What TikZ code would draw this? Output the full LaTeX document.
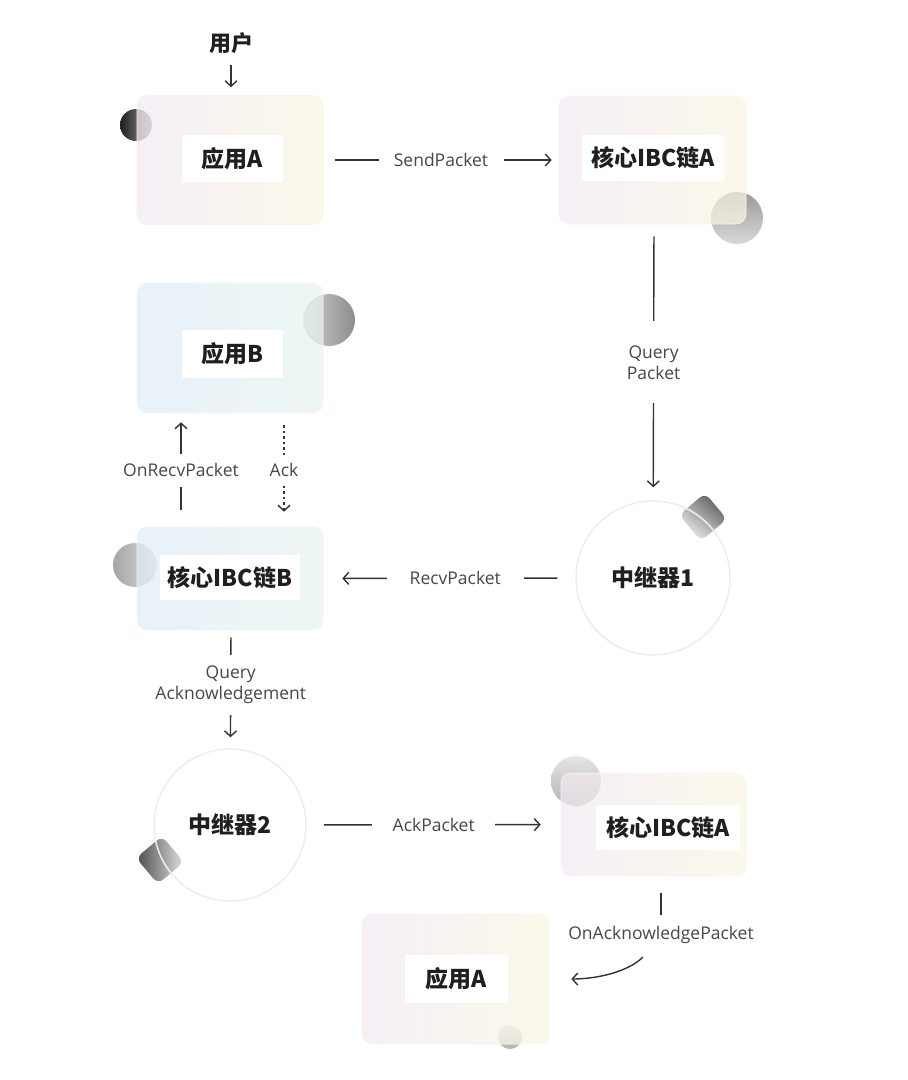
\documentclass[tikz,border=0pt]{standalone}
\usepackage{fontspec}
\setmainfont{Open Sans}
\newfontfamily\cjk{Noto Sans CJK SC}
\usetikzlibrary{arrows.meta,calc,backgrounds}
\definecolor{wl}{HTML}{F2E9F3}
\definecolor{wr}{HTML}{F9F6E2}
\definecolor{cl}{HTML}{E0EBF8}
\definecolor{cr}{HTML}{E7F3EF}
\begin{document}
\begin{tikzpicture}[x=1pt,y=-1pt,
  ln/.style={draw=black!80, line width=1.4pt},
  arr/.style={ln, -{Straight Barb[length=5.5pt,width=12pt]}},
  lbl/.style={fill=white, text=black!72, font=\fontsize{17.5}{21}\selectfont, align=center, inner sep=0pt},
  box/.style={rounded corners=10pt, fill opacity=0.72, draw=black!4, line width=0.6pt, minimum width=186pt},
  warm/.style={box, left color=wl, right color=wr},
  cool/.style={box, left color=cl, right color=cr},
  title/.style={fill=white, font=\cjk\bfseries\fontsize{23}{26}\selectfont, text=black!88, inner sep=0pt},
  relay/.style={circle, draw=black!7, line width=1.5pt, font=\cjk\bfseries\fontsize{23}{26}\selectfont, text=black!88},
]
\useasboundingbox (0,0) rectangle (908,1080);

% boxes
\node[warm, minimum height=129] (bA) at (230,160) {};
\node[warm, minimum height=128, minimum width=187] (cA) at (652.5,160) {};
\node[cool, minimum height=130] (bB) at (230,348) {};
\node[cool, minimum height=103] (cB) at (230,578.5) {};
\node[warm, minimum height=103, minimum width=185] (cA2) at (653.5,824.5) {};
\node[warm, minimum height=130, minimum width=187] (aA2) at (455.5,979) {};

% decorations behind boxes
\begin{scope}[on background layer]
  \shade[left color=black!88, right color=black!40] (136,125) circle (16);
  \shade[top color=black!40, bottom color=black!15] (737,218) circle (26);
  \shade[left color=black!18, right color=black!45] (329,320) circle (26);
  \shade[left color=black!35, right color=black!15] (135,565) circle (22);
  \shade[top color=black!10, bottom color=black!30] (576,781) circle (25);
  \shade[top color=black!12, bottom color=black!30] (510,1037) circle (12);
  \shade[rounded corners=7pt, top color=black!65, bottom color=black!6, shading angle=-40,
    rotate around={40:(703,517)}] (686,500) rectangle (720,534);
  \shade[rounded corners=7pt, left color=black!70, right color=black!12,
    rotate around={40:(160,860)}] (143,843) rectangle (177,877);
\end{scope}

% titles
\node[title, minimum width=101, minimum height=47] (tA) at (232.5,158.5) {应用A};
\node[title, minimum width=142, minimum height=46] (tCA) at (653,158) {核心IBC链A};
\node[title, minimum width=101, minimum height=48] (tB) at (232.5,354) {应用B};
\node[title, minimum width=140, minimum height=45] (tCB) at (230,577.5) {核心IBC链B};
\node[title, minimum width=144, minimum height=45] (tCA2) at (668,827.5) {核心IBC链A};
\node[title, minimum width=103, minimum height=48] (tA2) at (456.5,979) {应用A};

% relays
\node[relay, minimum size=154] (r1) at (653,578) {中继器1};
\node[relay, minimum size=152] (r2) at (230,825) {中继器2};

% user
\node[font=\cjk\bfseries\fontsize{22}{24}\selectfont, text=black!88, inner sep=0pt] (user) at (231,43) {用户};
\draw[arr, shorten <=11, shorten >=8] (user.south) -- (user.south |- bA.north);

% connectors
\draw[arr, shorten <=12, shorten >=7] (bA) -- node[lbl, minimum width=125] {SendPacket} (cA);
\draw[arr, shorten <=12, shorten >=13] ([xshift=1.5pt]cA.south) -- node[lbl, minimum height=82] {Query\\Packet} (r1);
\draw[arr, shorten <=18, shorten >=19] (r1) -- node[lbl, minimum width=137, xshift=6] {RecvPacket} (cB);
\draw[arr, shorten <=17, shorten >=9] ([xshift=-49pt]cB.north) -- node[lbl, minimum height=33] {OnRecvPacket} ([xshift=-49pt]bB.south);
\draw[arr, dash pattern=on 2.5pt off 3pt, shorten <=12, shorten >=15] ([xshift=54pt]bB.south) -- node[lbl, minimum height=25] {Ack} ([xshift=54pt]cB.north);
\draw[arr, shorten <=7, shorten >=11] ([xshift=1pt]cB.south) -- node[lbl, minimum height=60, pos=0.46] {Query\\Acknowledgement} (r2);
\draw[arr, shorten <=17, shorten >=20] (r2) -- node[lbl, minimum width=123] {AckPacket} (cA2);

\node[lbl] (oap) at (661,935) {OnAcknowledgePacket};
\draw[ln] ($(cA2.south -| oap)+(0,17)$) -- ($(cA2.south -| oap)+(0,39)$);
\draw[arr] ($(oap)+(-18,22)$) .. controls +(-15,15) and +(25,0) .. ($(aA2.east)+(22,0)$);
\end{tikzpicture}
\end{document}
